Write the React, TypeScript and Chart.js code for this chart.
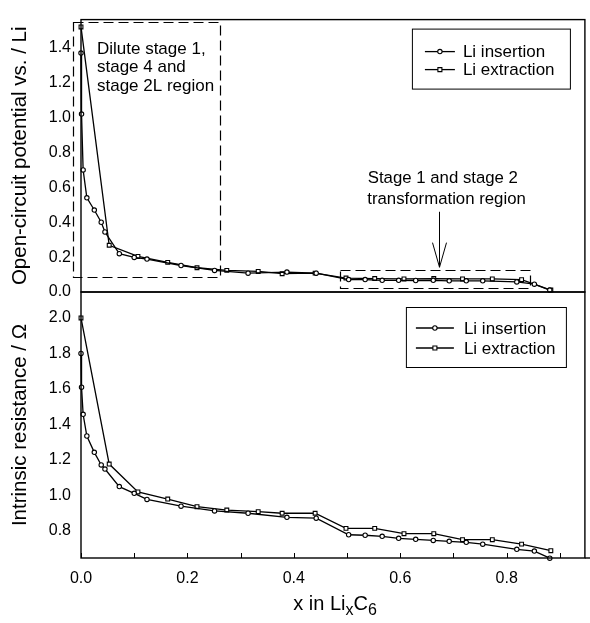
import React, { useEffect, useRef } from "react";
import { Chart, registerables } from "chart.js";

Chart.register(...registerables);

const FONT = "'Liberation Sans', Arial, Helvetica, sans-serif";

// ---- data ----
const xTickValues = [0, 0.1, 0.2, 0.3, 0.4, 0.5, 0.6, 0.7, 0.8, 0.9];
const ocvTickValues = [0, 0.2, 0.4, 0.6, 0.8, 1.0, 1.2, 1.4];
const resTickValues = [0.8, 1.0, 1.2, 1.4, 1.6, 1.8, 2.0];

const insertionX = [0, 0.001, 0.004, 0.011, 0.025, 0.038, 0.045, 0.072, 0.1, 0.124, 0.188, 0.251, 0.314, 0.387, 0.442, 0.503, 0.534, 0.566, 0.597, 0.629, 0.662, 0.692, 0.724, 0.755, 0.819, 0.852, 0.881];
const insertionOCV = [1.37, 1.02, 0.7, 0.54, 0.47, 0.4, 0.344, 0.22, 0.198, 0.189, 0.152, 0.124, 0.108, 0.114, 0.108, 0.071, 0.071, 0.067, 0.067, 0.066, 0.067, 0.064, 0.064, 0.064, 0.058, 0.045, 0.011];
const insertionRes = [1.8, 1.61, 1.457, 1.335, 1.243, 1.172, 1.149, 1.05, 1.012, 0.978, 0.94, 0.913, 0.9, 0.877, 0.872, 0.779, 0.776, 0.77, 0.759, 0.753, 0.747, 0.742, 0.736, 0.726, 0.697, 0.687, 0.647];

const extractionX = [0, 0.053, 0.107, 0.163, 0.218, 0.274, 0.333, 0.378, 0.44, 0.498, 0.552, 0.607, 0.663, 0.717, 0.773, 0.828, 0.883];
const extractionOCV = [1.52, 0.268, 0.204, 0.17, 0.139, 0.124, 0.118, 0.105, 0.108, 0.08, 0.077, 0.075, 0.077, 0.075, 0.075, 0.071, 0.011];
const extractionRes = [2.0, 1.177, 1.02, 0.98, 0.937, 0.918, 0.909, 0.9, 0.9, 0.815, 0.815, 0.785, 0.785, 0.751, 0.751, 0.726, 0.689];

const seriesNames = ["Li insertion", "Li extraction"];
const diluteLabel = ["Dilute stage 1,", "stage 4 and", "stage 2L region"];
const stageLabel = ["Stage 1 and stage 2", "transformation region"];
const ocvTitle = "Open-circuit potential vs. / Li";
const resTitle = "Intrinsic resistance / \u03A9";

// ---- helpers ----
const toPoints = (xs: number[], ys: number[]) => xs.map((x, i) => ({ x, y: ys[i] }));

const lineDataset = (label: string, xs: number[], ys: number[], style: string) => ({
  label,
  data: toPoints(xs, ys),
  borderColor: "#000",
  borderWidth: 1.3,
  pointStyle: style,
  pointRadius: style === "rect" ? 2.7 : 2.2,
  pointBorderWidth: 1.1,
  pointBorderColor: "#000",
  pointBackgroundColor: "#fff",
  tension: 0,
  clip: false as any,
});

function drawLegend(ctx: CanvasRenderingContext2D, left: number, top: number, w: number, h: number, rowOffsets: number[], l1: number, l2: number, tx: number) {
  ctx.save();
  ctx.strokeStyle = "#000";
  ctx.lineWidth = 1;
  ctx.setLineDash([]);
  ctx.strokeRect(left + 0.5, top + 0.5, w, h);
  ctx.font = `17px ${FONT}`;
  ctx.fillStyle = "#000";
  ctx.textBaseline = "middle";
  ctx.textAlign = "left";
  seriesNames.forEach((name, i) => {
    const y = top + rowOffsets[i];
    ctx.beginPath();
    ctx.lineWidth = 1.3;
    ctx.moveTo(left + l1, y);
    ctx.lineTo(left + l2, y);
    ctx.stroke();
    const mx = left + (l1 + l2) / 2;
    ctx.fillStyle = "#fff";
    ctx.lineWidth = 1.1;
    ctx.beginPath();
    if (i === 0) {
      ctx.arc(mx, y, 2.2, 0, Math.PI * 2);
    } else {
      ctx.rect(mx - 2, y - 2, 4, 4);
    }
    ctx.fill();
    ctx.stroke();
    ctx.fillStyle = "#000";
    ctx.fillText(name, left + tx, y + 1);
  });
  ctx.restore();
}

function drawFrame(chart: any) {
  const { ctx, chartArea: a } = chart;
  ctx.save();
  ctx.strokeStyle = "#000";
  ctx.lineWidth = 1.4;
  ctx.strokeRect(a.left, a.top, a.right - a.left, a.bottom - a.top);
  ctx.restore();
}

const topPlugin = {
  id: "topDecor",
  afterDraw(chart: any) {
    const { ctx, chartArea: a } = chart;
    const xs = chart.scales.x;
    const ys = chart.scales.y;
    drawFrame(chart);
    ctx.save();
    ctx.strokeStyle = "#000";
    ctx.lineWidth = 1.2;
    ctx.setLineDash([10, 5]);
    const snap = (v: number) => Math.round(v) + 0.5;
    // dilute region box
    const r1 = [xs.getPixelForValue(-0.0155), ys.getPixelForValue(1.55), xs.getPixelForValue(0.261), ys.getPixelForValue(0.086)].map(snap);
    ctx.strokeRect(r1[0], r1[1], r1[2] - r1[0], r1[3] - r1[1]);
    // stage transformation box
    const r2 = [xs.getPixelForValue(0.487), ys.getPixelForValue(0.129), xs.getPixelForValue(0.843), ys.getPixelForValue(0.021)].map(snap);
    ctx.strokeRect(r2[0], r2[1], r2[2] - r2[0], r2[3] - r2[1]);
    ctx.setLineDash([]);
    // arrow
    const ax = snap(xs.getPixelForValue(0.672));
    const ay1 = ys.getPixelForValue(0.46);
    const ay2 = ys.getPixelForValue(0.142);
    const aw = ys.getPixelForValue(0.283);
    ctx.lineWidth = 1;
    ctx.beginPath();
    ctx.moveTo(ax, ay1);
    ctx.lineTo(ax, ay2);
    ctx.moveTo(ax - 7, aw);
    ctx.lineTo(ax, ay2);
    ctx.lineTo(ax + 7, aw);
    ctx.stroke();
    // texts
    ctx.fillStyle = "#000";
    ctx.font = `17px ${FONT}`;
    ctx.textBaseline = "middle";
    ctx.textAlign = "left";
    const dx = xs.getPixelForValue(0.03);
    [1.394, 1.288, 1.182].forEach((v, i) => ctx.fillText(diluteLabel[i], dx, ys.getPixelForValue(v)));
    ctx.textAlign = "center";
    ctx.font = `16.8px ${FONT}`;
    ctx.fillText(stageLabel[0], xs.getPixelForValue(0.68), ys.getPixelForValue(0.649));
    ctx.fillText(stageLabel[1], xs.getPixelForValue(0.687), ys.getPixelForValue(0.532));
    ctx.restore();
    drawLegend(ctx, a.right - 173, a.top + 9, 158, 60, [23, 41], 13, 43, 51);
  },
};

const bottomPlugin = {
  id: "bottomDecor",
  afterDraw(chart: any) {
    const { ctx, chartArea: a } = chart;
    const xs = chart.scales.x;
    drawFrame(chart);
    ctx.save();
    ctx.strokeStyle = "#000";
    ctx.lineWidth = 1;
    // inward x ticks
    xs.ticks.forEach((t: any) => {
      const px = Math.round(xs.getPixelForValue(t.value)) + 0.5;
      ctx.beginPath();
      ctx.moveTo(px, a.bottom);
      ctx.lineTo(px, a.bottom - 5);
      ctx.stroke();
    });
    // extend x axis line to edge
    ctx.lineWidth = 1.4;
    ctx.beginPath();
    ctx.moveTo(a.right, a.bottom);
    ctx.lineTo(chart.width, a.bottom);
    ctx.stroke();
    // x title with subscripts
    const big = `20px ${FONT}`;
    const small = `16px ${FONT}`;
    const parts: [string, string, number][] = [
      ["x in Li", big, 0],
      ["x", small, 5],
      ["C", big, 0],
      ["6", small, 5],
    ];
    let total = 0;
    parts.forEach(([s, f]) => {
      ctx.font = f;
      total += ctx.measureText(s).width;
    });
    let x = 335 - total / 2;
    const base = 610;
    ctx.fillStyle = "#000";
    ctx.textAlign = "left";
    ctx.textBaseline = "alphabetic";
    parts.forEach(([s, f, dy]) => {
      ctx.font = f;
      ctx.fillText(s, x, base + dy);
      x += ctx.measureText(s).width;
    });
    ctx.restore();
    drawLegend(ctx, a.right - 179, a.top + 15, 160, 60, [21, 41], 10, 48, 58);
  },
};

const yScale = (min: number, max: number, ticks: number[], title: string) => ({
  type: "linear" as const,
  min,
  max,
  afterBuildTicks: (s: any) => {
    s.ticks = ticks.map((v) => ({ value: v }));
  },
  afterFit: (s: any) => {
    s.width = 81;
  },
  grid: { display: false, drawTicks: false },
  border: { display: false },
  ticks: {
    color: "#000",
    padding: 10,
    font: { family: FONT, size: 16 },
    callback: (v: any) => Number(v).toFixed(1),
  },
  title: {
    display: true,
    text: title,
    color: "#000",
    font: { family: FONT, size: 20.5 },
    padding: { top: 8, bottom: 0 },
  },
});

export default function App() {
  const topRef = useRef<HTMLCanvasElement>(null);
  const botRef = useRef<HTMLCanvasElement>(null);

  useEffect(() => {
    Chart.defaults.font.family = FONT;
    const common = {
      responsive: false,
      maintainAspectRatio: false,
      animation: false as const,
      plugins: { legend: { display: false }, tooltip: { enabled: false } },
      events: [] as any[],
    };
    const top = new Chart(topRef.current!, {
      type: "line",
      data: {
        datasets: [
          lineDataset(seriesNames[0], insertionX, insertionOCV, "circle"),
          lineDataset(seriesNames[1], extractionX, extractionOCV, "rect"),
        ] as any,
      },
      options: {
        ...common,
        layout: { padding: { left: 0, right: 2, top: 13, bottom: 331 } },
        scales: {
          x: {
            type: "linear",
            min: 0,
            max: 0.947,
            afterFit: (s: any) => {
              s.height = 0;
            },
            grid: { display: false, drawTicks: false },
            border: { display: false },
            ticks: { display: false },
          },
          y: yScale(0, 1.562, ocvTickValues, ocvTitle),
        },
      } as any,
      plugins: [topPlugin],
    });
    const bottom = new Chart(botRef.current!, {
      type: "line",
      data: {
        datasets: [
          lineDataset(seriesNames[0], insertionX, insertionRes, "circle"),
          lineDataset(seriesNames[1], extractionX, extractionRes, "rect"),
        ] as any,
      },
      options: {
        ...common,
        layout: { padding: { left: 0, right: 2, top: 292, bottom: 0 } },
        scales: {
          x: {
            type: "linear",
            min: 0,
            max: 0.947,
            afterBuildTicks: (s: any) => {
              s.ticks = xTickValues.map((v) => ({ value: v }));
            },
            afterFit: (s: any) => {
              s.height = 65;
            },
            grid: { display: false, drawTicks: false },
            border: { display: false },
            ticks: {
              color: "#000",
              padding: 11,
              maxRotation: 0,
              autoSkip: false,
              font: { family: FONT, size: 16 },
              callback: (v: any) => {
                const n = Math.round(Number(v) * 10);
                return n % 2 === 0 ? (n / 10).toFixed(1) : "";
              },
            },
          },
          y: yScale(0.648, 2.146, resTickValues, resTitle),
        },
      } as any,
      plugins: [bottomPlugin],
    });
    return () => {
      top.destroy();
      bottom.destroy();
    };
  }, []);

  return (
    <div style={{ position: "absolute", left: 0, top: 0, width: 590, height: 623, background: "#fff" }}>
      <canvas ref={topRef} width={590} height={623} style={{ position: "absolute", left: 0, top: 0 }} />
      <canvas ref={botRef} width={590} height={623} style={{ position: "absolute", left: 0, top: 0 }} />
    </div>
  );
}
